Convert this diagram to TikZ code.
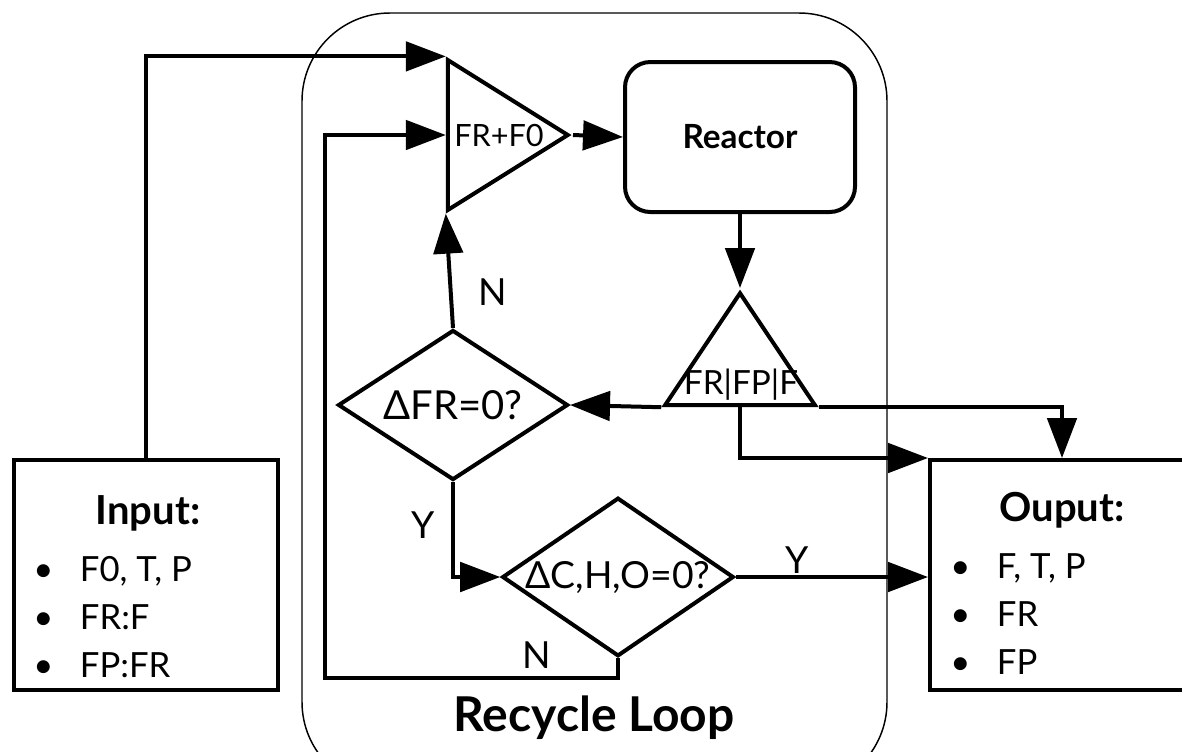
\documentclass[tikz,border=0pt]{standalone}
\usepackage{fontspec}
\setmainfont{Lato}
\usetikzlibrary{arrows.meta,shapes.geometric,positioning}
\begin{document}
\begin{tikzpicture}[x=0.75pt, y=-0.75pt,
  flowarrow/.style={line width=3pt, -{Triangle[length=30pt, width=22pt]}},
  iobox/.style={draw, line width=3pt, minimum width=198pt, minimum height=172.5pt, inner sep=0pt},
  decision/.style={draw, diamond, line width=3pt, inner sep=0pt},
  junction/.style={draw, isosceles triangle, isosceles triangle stretches, line width=3pt, inner sep=0pt},
  branch/.style={font=\fontsize{28pt}{32pt}\selectfont, inner sep=0pt},
  listtext/.style={font=\fontsize{26pt}{36pt}\selectfont, align=left, inner sep=0pt},
  titletext/.style={font=\bfseries\fontsize{30pt}{34pt}\selectfont, inner sep=0pt}]
\useasboundingbox (0,0) rectangle (1182,751);

% recycle loop frame
\node[draw, line width=1.1pt, rounded corners=66pt, minimum width=438.75pt, minimum height=582.75pt] (loop) at (594.5,401.5) {};
\node[font=\bfseries\fontsize{36pt}{40pt}\selectfont, inner sep=0pt] (looplabel) at (594,718) {Recycle Loop};

% input and output
\node[iobox] (input) at (146,575) {};
\node[titletext] (inputtitle) at (148,513) {Input:};
\node[listtext, anchor=west] (inputlist) at (33,617)
{\makebox[35pt][l]{\textbullet}F0, T, P\\\makebox[35pt][l]{\textbullet}FR:F\\\makebox[35pt][l]{\textbullet}FP:FR};
\node[iobox] (output) at (1062,575) {};
\node[titletext] (outputtitle) at (1062,510) {Ouput:};
\node[listtext, anchor=west] (outputlist) at (950,614)
{\makebox[35pt][l]{\textbullet}F, T, P\\\makebox[35pt][l]{\textbullet}FR\\\makebox[35pt][l]{\textbullet}FP};

% mixer, reactor, splitter
\node[junction, shape border rotate=0, minimum width=112.5pt, minimum height=90pt, anchor=apex] (mixer) at (573,135) {};
\node[font=\fontsize{23pt}{27pt}\selectfont, inner sep=0pt] (mixerlabel) at (499,135) {FR+F0};
\node[draw, rounded corners=19pt, line width=3pt, minimum width=172.5pt, minimum height=112.5pt,
  font=\bfseries\fontsize{25pt}{29pt}\selectfont] (reactor) at (740,137) {Reactor};
\node[junction, shape border rotate=90, minimum width=112.5pt, minimum height=84pt, anchor=apex] (splitter) at (740,288) {};
\node[font=\fontsize{25pt}{29pt}\selectfont, inner sep=0pt] (splitterlabel) at (741,385) {FR|FP|F};

% decisions
\node[decision, aspect=1.53, minimum width=172.5pt, minimum height=112.5pt, font=\fontsize{30pt}{34pt}\selectfont] (dfr) at (453,405) {ΔFR=0?};
\node[decision, aspect=1.46, minimum width=172.5pt, minimum height=117.75pt, font=\fontsize{28pt}{32pt}\selectfont] (dcho) at (618,577) {ΔC,H,O=0?};

% connectors
\coordinate (backturn) at (325,678);
\draw[flowarrow] (input.north) |- (mixer.left corner);
\draw[flowarrow] (dcho.south) |- (backturn) |- (mixer.west);
\draw[flowarrow] (mixer.apex) -- (reactor.west);
\draw[flowarrow] (reactor.south) -- (splitter.apex);
\draw[flowarrow] (splitter.left corner) -- (dfr.east);
\draw[flowarrow] (splitter.right corner) -| (output.north);
\draw[flowarrow] (splitter.lower side) |- (output.north west);
\draw[flowarrow] (dfr.north) -- (mixer.right corner);
\draw[flowarrow] (dfr.south) |- (dcho.west);
\draw[flowarrow] (dcho.east) -- (dcho.east -| output.west);

% branch labels
\node[branch] (nfr) at (493,292) {N};
\node[branch] (yfr) at (423,525) {Y};
\node[branch] (ycho) at (797,560) {Y};
\node[branch] (ncho) at (537,655) {N};
\end{tikzpicture}
\end{document}
